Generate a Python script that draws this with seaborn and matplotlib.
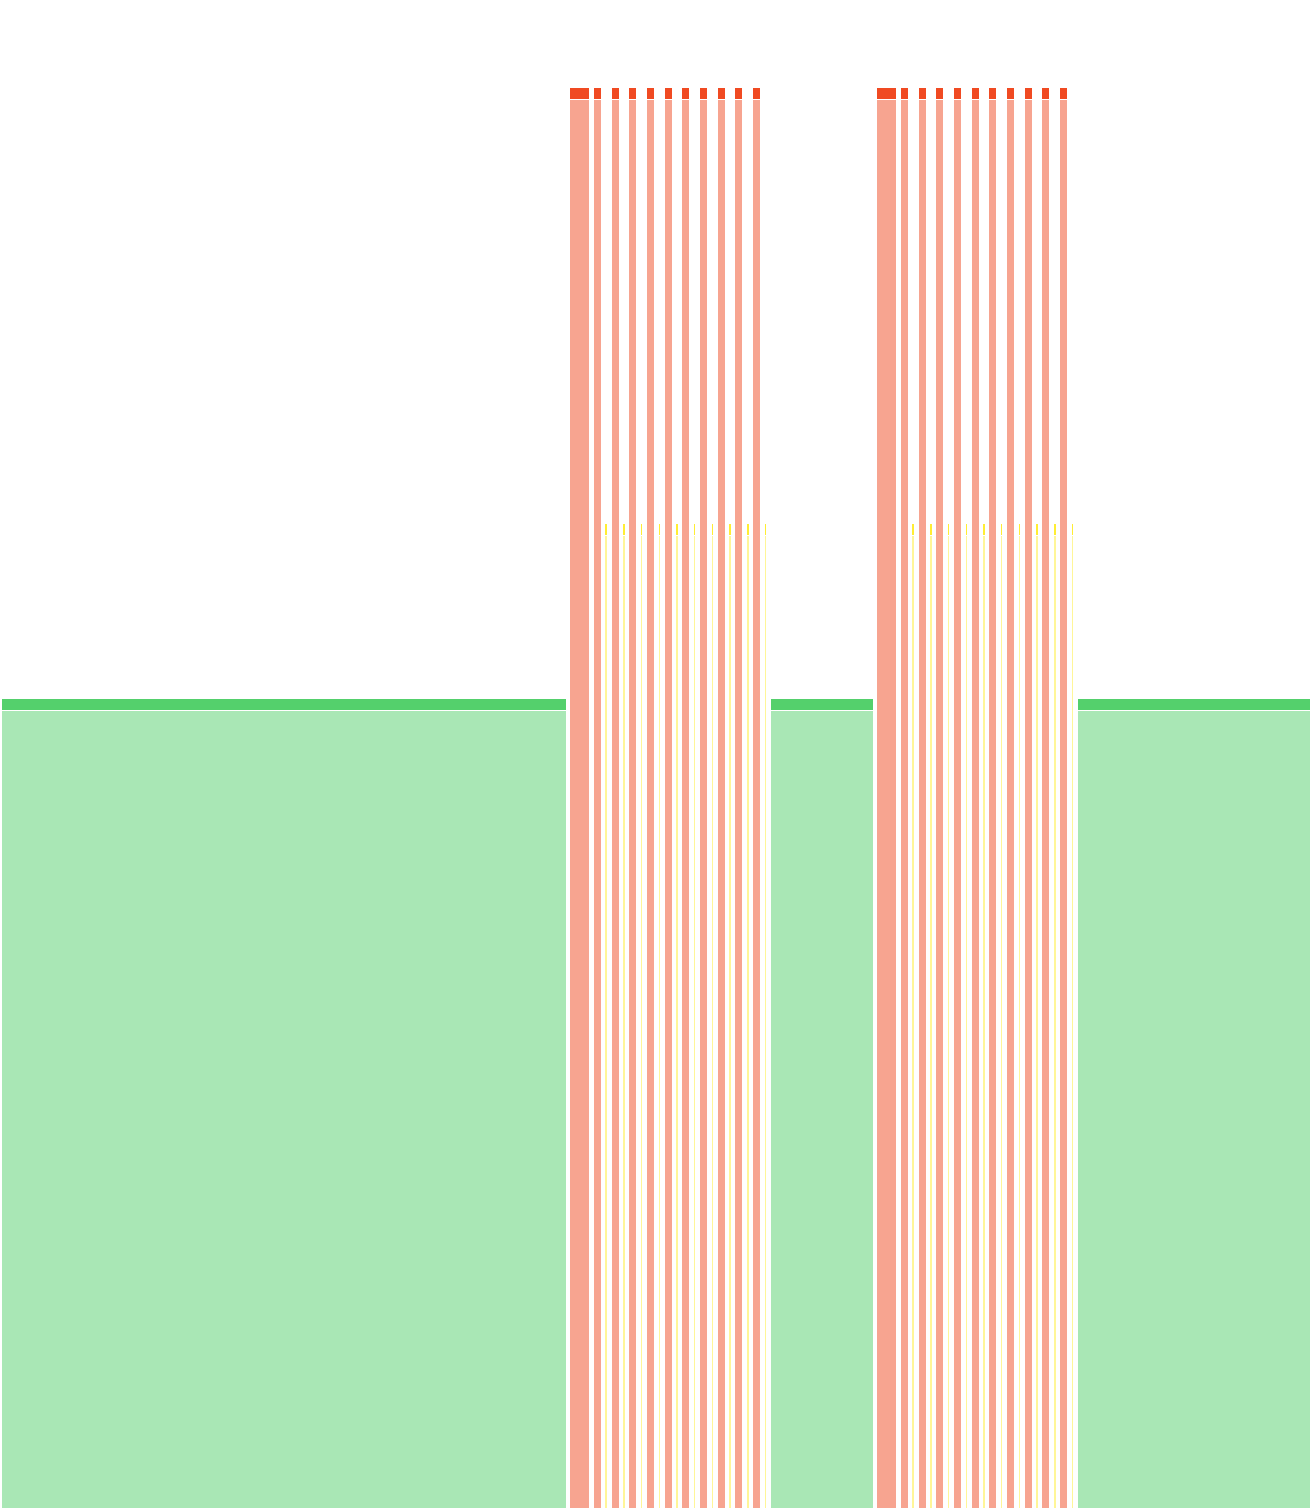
import numpy as np
import pandas as pd
import matplotlib
matplotlib.use("Agg")
import matplotlib.pyplot as plt
import seaborn as sns

# timeline segments, left to right (duration in timeline units, status)
status = [
    "up",
    "down",
    "down", "degraded", "down", "degraded", "down", "degraded", "down", "degraded",
    "down", "degraded", "down", "degraded", "down", "degraded", "down", "degraded",
    "down", "degraded", "down", "degraded",
    "up",
    "down",
    "down", "degraded", "down", "degraded", "down", "degraded", "down", "degraded",
    "down", "degraded", "down", "degraded", "down", "degraded", "down", "degraded",
    "down", "degraded", "down", "degraded",
    "up",
]
duration = [
    568.0,
    23.5,
    11.6, 6.1, 11.6, 6.1, 11.6, 6.1, 11.6, 6.1,
    11.6, 6.1, 11.6, 6.1, 11.6, 6.1, 11.6, 6.1,
    11.6, 6.1, 11.6, 6.1,
    106.5,
    23.5,
    11.6, 6.1, 11.6, 6.1, 11.6, 6.1, 11.6, 6.1,
    11.6, 6.1, 11.6, 6.1, 11.6, 6.1, 11.6, 6.1,
    11.6, 6.1, 11.6, 6.1,
    236.5,
]

# bar height per status
level = {"up": 57.0, "degraded": 69.3, "down": 100.0}
colors = {"up": "#54d06c", "degraded": "#ffee33", "down": "#f04a22"}

df = pd.DataFrame({"status": status, "duration": duration})
df["start"] = df["duration"].cumsum() - df["duration"]
df["value"] = df["status"].map(level)

sns.set_theme(style="white")

fig = plt.figure(figsize=(13.12, 15.08), dpi=100)
fig.patch.set_facecolor("white")
ax = fig.add_axes([0, 0, 1, 1420 / 1508])
ax.set_xlim(0, df["duration"].sum())
ax.set_ylim(0, 100)
ax.axis("off")

pad = 2.3      # horizontal gap each side
cap = 0.775    # header strip height
gap = 0.08

for _, r in df.iterrows():
    c = colors[r["status"]]
    x0 = r["start"] + pad
    w = r["duration"] - 2 * pad
    # light body
    ax.bar(x0, r["value"] - cap - gap, width=w, bottom=0, align="edge",
           color=c, alpha=0.5, linewidth=0)
    # solid header
    ax.bar(x0, cap, width=w, bottom=r["value"] - cap, align="edge",
           color=c, linewidth=0)

fig.savefig("out.png", dpi=100, facecolor="white")
